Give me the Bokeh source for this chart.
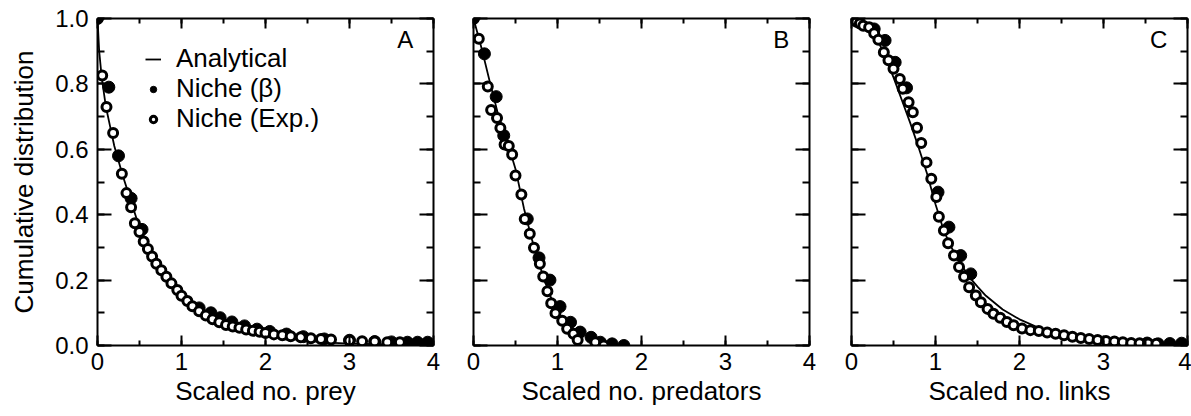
from bokeh.plotting import figure
from bokeh.models import (Range1d, LinearAxis, SingleIntervalTicker, Legend, LegendItem,
                          Label, PrintfTickFormatter)
from bokeh.layouts import row
from bokeh.embed import file_html
from bokeh.resources import INLINE

FONT = "Liberation Sans"

# ---------------- Panel A: scaled number of prey ----------------
prey_line_x = [0, 0.02, 0.05, 0.1, 0.15, 0.2, 0.3, 0.4, 0.5, 0.6, 0.7, 0.8, 0.9, 1.0,
               1.2, 1.4, 1.6, 1.8, 2.0, 2.25, 2.5, 2.75, 3.0, 3.5, 4.0]
prey_line_y = [1.0, 0.9, 0.82, 0.73, 0.67, 0.61, 0.52, 0.44, 0.36, 0.31, 0.265, 0.225, 0.19, 0.16,
               0.115, 0.083, 0.06, 0.044, 0.032, 0.022, 0.014, 0.009, 0.006, 0.003, 0.001]
prey_beta_x = [0.0, 0.135, 0.25, 0.40, 0.53, 1.21, 1.35, 1.46, 1.6, 1.75, 1.9, 2.05, 2.25,
               2.45, 2.7, 3.0, 3.3, 3.5, 3.69, 3.81, 3.93]
prey_beta_y = [1.0, 0.79, 0.58, 0.45, 0.355, 0.115, 0.1, 0.085, 0.072, 0.06, 0.05, 0.043, 0.035,
               0.027, 0.02, 0.016, 0.012, 0.011, 0.01, 0.01, 0.01]
prey_exp_x = [0.056, 0.107, 0.186, 0.29, 0.345, 0.40, 0.445, 0.50, 0.55, 0.60, 0.65, 0.70, 0.76,
              0.82, 0.88, 0.95, 1.0, 1.07, 1.13, 1.21, 1.29, 1.37, 1.45, 1.53, 1.61, 1.69, 1.77,
              1.85, 1.93, 2.0, 2.1, 2.2, 2.3, 2.42, 2.54, 2.66, 2.78, 3.0, 3.15, 3.3, 3.45, 3.6]
prey_exp_y = [0.826, 0.729, 0.65, 0.525, 0.466, 0.423, 0.374, 0.347, 0.318, 0.295, 0.272, 0.25, 0.23,
              0.21, 0.19, 0.17, 0.152, 0.136, 0.12, 0.105, 0.092, 0.08, 0.071, 0.063, 0.058, 0.054, 0.049,
              0.045, 0.042, 0.038, 0.034, 0.031, 0.028, 0.025, 0.022, 0.02, 0.018, 0.015, 0.013, 0.012, 0.01, 0.01]

# ---------------- Panel B: scaled number of predators ----------------
pred_line_x = [0, 0.1, 0.2, 0.3, 0.4, 0.5, 0.6, 0.7, 0.8, 0.9, 1.0, 1.1, 1.2, 1.25]
pred_line_y = [1.0, 0.905, 0.80, 0.70, 0.625, 0.54, 0.42, 0.32, 0.235, 0.16, 0.1, 0.05, 0.015, 0.0]
pred_beta_x = [0.0, 0.13, 0.27, 0.36, 0.64, 0.78, 0.91, 1.03, 1.155, 1.27, 1.40, 1.51, 1.65, 1.79]
pred_beta_y = [1.0, 0.892, 0.761, 0.642, 0.387, 0.268, 0.20, 0.119, 0.071, 0.041, 0.025, 0.01, 0.005, 0.0]
pred_exp_x = [0.063, 0.17, 0.21, 0.28, 0.32, 0.37, 0.42, 0.46, 0.50, 0.57, 0.61, 0.67, 0.72, 0.79,
              0.83, 0.88, 0.925, 0.976, 1.056, 1.115, 1.19, 1.24, 1.45, 1.55]
pred_exp_y = [0.938, 0.792, 0.72, 0.696, 0.665, 0.615, 0.61, 0.584, 0.52, 0.462, 0.387, 0.342, 0.299, 0.25,
              0.211, 0.166, 0.129, 0.099, 0.076, 0.051, 0.036, 0.017, 0.01, 0.0]

# ---------------- Panel C: scaled number of links ----------------
links_line_x = [0, 0.1, 0.2, 0.3, 0.4, 0.5, 0.6, 0.7, 0.8, 0.9, 1.0, 1.1, 1.2, 1.3, 1.4, 1.5, 1.6,
                1.8, 2.0, 2.25, 2.5, 3.0, 3.5, 4.0]
links_line_y = [1.0, 0.993, 0.973, 0.94, 0.885, 0.82, 0.75, 0.68, 0.605, 0.525, 0.432, 0.35, 0.295,
                0.25, 0.21, 0.18, 0.152, 0.11, 0.08, 0.052, 0.038, 0.02, 0.011, 0.007]
links_beta_x = [0.0, 0.04, 0.08, 0.27, 0.40, 0.52, 0.655, 1.03, 1.16, 1.30, 1.42, 3.52, 3.65, 3.79, 3.93]
links_beta_y = [1.0, 1.0, 0.998, 0.968, 0.933, 0.866, 0.788, 0.469, 0.362, 0.275, 0.219, 0.0075, 0.005,
                0.006, 0.007]
links_exp_x = [0.02, 0.06, 0.1, 0.14, 0.21, 0.27, 0.32, 0.385, 0.44, 0.50, 0.575, 0.61, 0.68, 0.73, 0.78,
               0.83, 0.893, 0.95, 1.01, 1.04, 1.10, 1.15, 1.22, 1.28, 1.34, 1.40, 1.48, 1.54, 1.62, 1.69,
               1.77, 1.85, 1.93, 2.03, 2.13, 2.23, 2.33, 2.43, 2.53, 2.63, 2.73, 2.83, 2.93, 3.03, 3.13,
               3.23, 3.33, 3.43, 3.53, 3.63]
links_exp_y = [0.995, 0.99, 0.985, 0.978, 0.973, 0.955, 0.935, 0.897, 0.872, 0.846, 0.815, 0.785, 0.744,
               0.713, 0.666, 0.619, 0.56, 0.51, 0.454, 0.394, 0.352, 0.313, 0.275, 0.24, 0.21, 0.178, 0.153,
               0.132, 0.112, 0.097, 0.085, 0.072, 0.062, 0.052, 0.047, 0.044, 0.04, 0.036, 0.031, 0.027,
               0.023, 0.02, 0.017, 0.014, 0.012, 0.01, 0.008, 0.007, 0.006, 0.005]

x_labels = ["Scaled no. prey", "Scaled no. predators", "Scaled no. links"]
panel_letters = ["A", "B", "C"]
legend_labels = ["Analytical", "Niche (\u03b2)", "Niche (Exp.)"]
y_label = "Cumulative distribution"


def style_axis(ax, major_in, minor_in, show_labels):
    ax.axis_line_color = "black"
    ax.axis_line_width = 2
    ax.major_tick_in = major_in
    ax.major_tick_out = 0
    ax.minor_tick_in = minor_in
    ax.minor_tick_out = 0
    ax.major_tick_line_width = 2
    ax.minor_tick_line_width = 2
    ax.major_tick_line_color = "black"
    ax.minor_tick_line_color = "black"
    ax.axis_label_text_color = "black"
    if show_labels:
        ax.major_label_text_font = FONT
        ax.major_label_text_font_size = "24px"
        ax.major_label_text_color = "black"
    else:
        ax.major_label_text_font_size = "0px"
        ax.major_label_text_color = None
        ax.major_label_standoff = 0


def make_legend(label, renderer, bottom):
    return Legend(items=[LegendItem(label=label, renderers=[renderer])],
                  location=(48, bottom), padding=0, spacing=0, margin=0,
                  border_line_color=None, background_fill_alpha=0,
                  label_text_font=FONT, label_text_font_size="26px", label_text_color="black",
                  glyph_width=16, glyph_height=20, label_height=20, label_standoff=15)


def make_panel(idx, lx, ly, bx, by, ex, ey, width, mleft, mright):
    p = figure(width=width, height=416, x_range=Range1d(0, 4), y_range=Range1d(0, 1),
               output_backend="svg", toolbar_location=None,
               min_border_left=mleft, min_border_right=mright,
               min_border_top=18, min_border_bottom=71)
    p.grid.visible = False
    p.outline_line_color = None

    xa = p.xaxis[0]
    xa.ticker = SingleIntervalTicker(interval=1, num_minor_ticks=2)
    style_axis(xa, 10, 5, True)
    xa.major_label_standoff = 7
    xa.axis_label = x_labels[idx]
    xa.axis_label_text_font = FONT
    xa.axis_label_text_font_size = "26px"
    xa.axis_label_text_font_style = "normal"
    xa.axis_label_standoff = 3

    ya = p.yaxis[0]
    ya.ticker = SingleIntervalTicker(interval=0.2, num_minor_ticks=2)
    if idx == 0:
        style_axis(ya, 14, 7, True)
        ya.formatter = PrintfTickFormatter(format="%.1f")
        ya.major_label_standoff = 9
        ya.axis_label = y_label
        ya.axis_label_text_font = FONT
        ya.axis_label_text_font_size = "26px"
        ya.axis_label_text_font_style = "normal"
        ya.axis_label_standoff = 13
    else:
        style_axis(ya, 14, 7, False)

    top = LinearAxis(ticker=SingleIntervalTicker(interval=1, num_minor_ticks=2))
    style_axis(top, 10, 5, False)
    p.add_layout(top, "above")
    right = LinearAxis(ticker=SingleIntervalTicker(interval=0.2, num_minor_ticks=2))
    style_axis(right, 14, 7, False)
    p.add_layout(right, "right")

    rl = p.line(lx, ly, line_color="black", line_width=1.8)
    rb = p.scatter(bx, by, marker="circle", size=12, fill_color="black", line_color="black")
    re_ = p.scatter(ex, ey, marker="circle", size=9, fill_color="white", line_color="black",
                    line_width=3)

    p.add_layout(Label(x=3.76, y=0.935, text=panel_letters[idx], text_font=FONT,
                       text_font_size="24px", text_align="right", text_baseline="alphabetic",
                       text_color="black"))

    if idx == 0:
        p.add_layout(make_legend(legend_labels[0], rl, 271))
        p.add_layout(make_legend(legend_labels[1], rb, 241))
        p.add_layout(make_legend(legend_labels[2], re_, 211))
    return p


pa = make_panel(0, prey_line_x, prey_line_y, prey_beta_x, prey_beta_y, prey_exp_x, prey_exp_y,
                441, 97, 8)
pb = make_panel(1, pred_line_x, pred_line_y, pred_beta_x, pred_beta_y, pred_exp_x, pred_exp_y,
                376, 32, 8)
pc = make_panel(2, links_line_x, links_line_y, links_beta_x, links_beta_y, links_exp_x, links_exp_y,
                374, 34, 4)

layout = row(pa, pb, pc, spacing=0)
open("out.html", "w").write(file_html(layout, INLINE))
